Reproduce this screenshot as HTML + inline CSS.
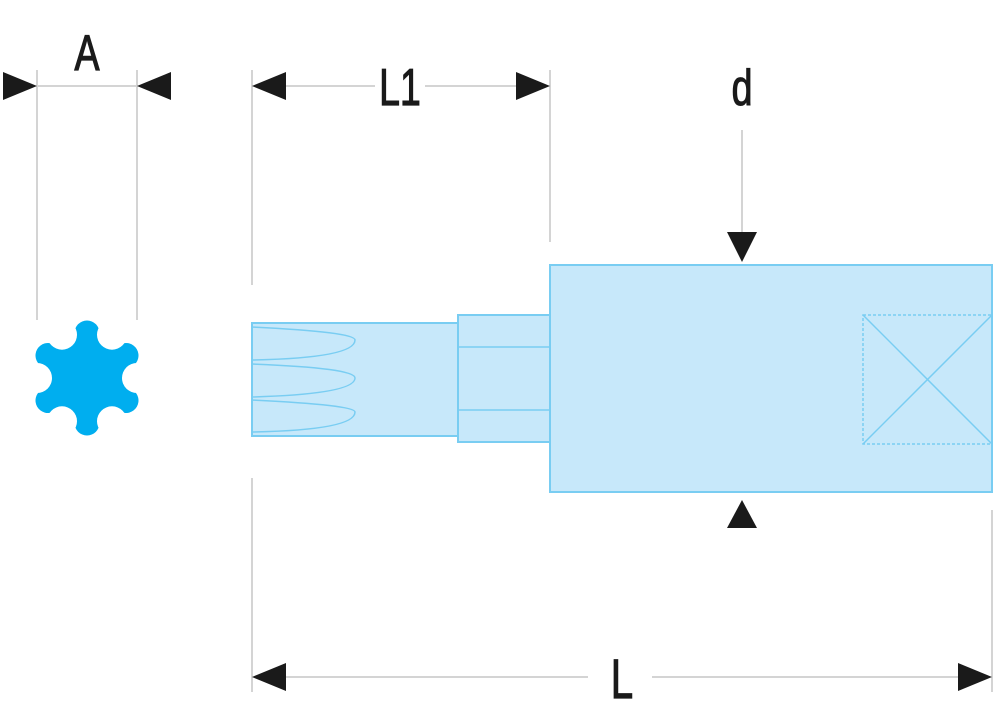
<!DOCTYPE html>
<html><head><style>
html,body{margin:0;padding:0;background:#fff;}
svg{display:block;}
text{font-family:"Liberation Sans Narrow","Liberation Sans",sans-serif;fill:#1a1a1a;stroke:#1a1a1a;stroke-width:1.2;}
</style></head><body>
<svg width="1000" height="726" viewBox="0 0 1000 726" xmlns="http://www.w3.org/2000/svg">
<g stroke="#d4d4d4" stroke-width="2" fill="none">
<line x1="37" y1="70" x2="37" y2="320"/>
<line x1="137" y1="70" x2="137" y2="320"/>
<line x1="37" y1="86" x2="137" y2="86"/>
<line x1="252" y1="70" x2="252" y2="285"/>
<line x1="550" y1="70" x2="550" y2="242"/>
<line x1="280" y1="86" x2="375" y2="86"/>
<line x1="425" y1="86" x2="520" y2="86"/>
<line x1="742" y1="130" x2="742" y2="235"/>
<line x1="252" y1="478" x2="252" y2="692"/>
<line x1="992" y1="510" x2="992" y2="692"/>
<line x1="280" y1="677" x2="588" y2="677"/>
<line x1="652" y1="677" x2="962" y2="677"/>
</g>
<g fill="#1a1a1a">
<polygon points="3,72 37,86 3,100"/>
<polygon points="137,86 171,72 171,100"/>
<polygon points="252,86 286,72 286,100"/>
<polygon points="550,86 516,72 516,100"/>
<polygon points="742,262 727,232 757,232"/>
<polygon points="742,500 727,528 757,528"/>
<polygon points="252,677 286,663 286,691"/>
<polygon points="992,677 958,663 958,691"/>
</g>
<text x="87" y="70" font-size="50" text-anchor="middle" transform="translate(87 0) scale(0.75 1) translate(-87 0)">A</text>
<text x="400" y="105" font-size="52" text-anchor="middle" transform="translate(400 0) scale(0.72 1) translate(-400 0)">L1</text>
<text x="742" y="105" font-size="50" text-anchor="middle" transform="translate(742 0) scale(0.75 1) translate(-742 0)">d</text>
<text x="622" y="698" font-size="56" text-anchor="middle" transform="translate(622 0) scale(0.72 1) translate(-622 0)">L</text>
<!-- star (torx) -->
<g fill="#00aeef">
<circle cx="87" cy="378" r="38"/>
<g stroke="#00aeef" stroke-width="25" stroke-linecap="round">
<line x1="87" y1="378" x2="87" y2="333"/>
<line x1="87" y1="378" x2="87" y2="423"/>
<line x1="87" y1="378" x2="126" y2="355.5"/>
<line x1="87" y1="378" x2="48" y2="355.5"/>
<line x1="87" y1="378" x2="126" y2="400.5"/>
<line x1="87" y1="378" x2="48" y2="400.5"/>
</g>
</g>
<g fill="#fff">
<circle cx="112" cy="334.7" r="15"/>
<circle cx="62" cy="334.7" r="15"/>
<circle cx="112" cy="421.3" r="15"/>
<circle cx="62" cy="421.3" r="15"/>
<circle cx="137" cy="378" r="15"/>
<circle cx="37" cy="378" r="15"/>
</g>
<!-- tool -->
<g fill="#c7e8fa" stroke="#79cdf2" stroke-width="2">
<rect x="252" y="323" width="206" height="113"/>
<rect x="458" y="315" width="92" height="127"/>
<rect x="550" y="265" width="442" height="227"/>
</g>
<g stroke="#79cdf2" stroke-width="1.5" fill="none">
<path d="M252,327 Q355,332 355,340 Q355,358 252,360"/>
<path d="M252,364 Q355,368 355,378 Q355,394 252,397"/>
<path d="M252,400 Q355,405 355,412 Q355,430 252,432"/>
<line x1="458" y1="347" x2="550" y2="347"/>
<line x1="458" y1="410" x2="550" y2="410"/>
<rect x="863" y="315" width="129" height="129" stroke-dasharray="3 2"/>
<line x1="863" y1="315" x2="992" y2="444"/>
<line x1="863" y1="444" x2="992" y2="315"/>
</g>
</svg>
</body></html>
